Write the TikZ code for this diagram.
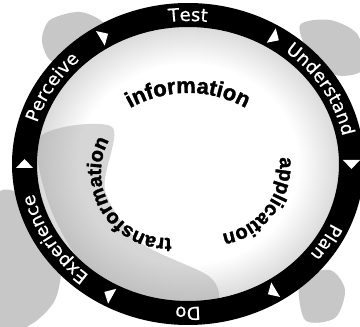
\documentclass[tikz,border=0pt]{standalone}
\usepackage{fontspec}
\newfontfamily\ringfnt{DejaVu Sans}[FakeBold=0.6]
\newfontfamily\innerfnt{Liberation Sans Bold}[FakeBold=1.6]
\usetikzlibrary{decorations.text,calc}
\pgfdeclareradialshading{innershade}{\pgfpoint{0bp}{0bp}}{color(0bp)=(white); color(18bp)=(white); color(32bp)=(black!30); color(50bp)=(black!42)}
\newcommand\ringstyle{\ringfnt\fontsize{18}{18}\selectfont\color{white}}
\newcommand\innerstyle[1]{\innerfnt\fontsize{#1}{#1}\selectfont\color{black}}
\tikzset{
  blob/.style={fill=black!22},
  shadeblob/.style={fill=black!40, opacity=0.4},
  ringtext/.style={decorate, decoration={text along path, text align=center, text={|\ringstyle|#1}}},
  innertext/.style 2 args={decorate, decoration={text along path, text align=center, text={|\innerstyle{#1}|#2}}},
  cyclehead/.style={fill=white}
}
\begin{document}
\begin{tikzpicture}[x=1pt,y=1pt]
\useasboundingbox (0,0) rectangle (360,327);
\fill[white] (0,0) rectangle (360,327);
\clip (0,0) rectangle (360,327);
% grey clouds
\fill[blob] plot[smooth cycle] coordinates {(50,307) (80,315) (105,302) (100,272) (75,257) (50,267) (42,287)};
\fill[blob] plot[smooth cycle] coordinates {(300,302) (330,307) (358,292) (362,257) (335,252) (310,272)};
\fill[blob] plot[smooth cycle] coordinates {(-5,127) (25,132) (55,112) (62,67) (55,27) (30,2) (-5,-5)};
\fill[blob] plot[smooth cycle] coordinates {(300,47) (330,57) (345,37) (335,9) (305,7)};
% inner shading
\shade[shading=innershade] (188,163) ellipse [x radius=153, y radius=139];
\fill[shadeblob] plot[smooth cycle] coordinates {(40,190) (50,120) (90,55) (160,25) (215,22) (210,50) (140,85) (105,137) (112,200)};
% ring
\coordinate (c) at (188,163);
\fill[black, even odd rule] (c) ellipse [x radius=176, y radius=161] (c) ellipse [x radius=151, y radius=137];
% arrowheads (clockwise)
\foreach \t in {0,58,121,180,241,301}{
  \fill[cyclehead, shift={($(c)+(\t:163.5 and 149)$)}, rotate=\t-90] (5,0) -- (-4,8.5) -- (-4,-8.5) -- cycle;
}
% ring labels
\path[ringtext=Test] (c) ++(150:157.5 and 143) arc[start angle=150, end angle=30, x radius=157.5, y radius=143];
\path[ringtext=Understand] (c) ++(90:157.5 and 143) arc[start angle=90, end angle=-30, x radius=157.5, y radius=143];
\path[ringtext=Plan] (c) ++(30:157.5 and 143) arc[start angle=30, end angle=-90, x radius=157.5, y radius=143];
\path[ringtext=Do] (c) ++(330:157.5 and 143) arc[start angle=330, end angle=210, x radius=157.5, y radius=143];
\path[ringtext=Experience] (c) ++(270:157.5 and 143) arc[start angle=270, end angle=150, x radius=157.5, y radius=143];
\path[ringtext=Perceive] (c) ++(210:157.5 and 143) arc[start angle=210, end angle=90, x radius=157.5, y radius=143];
% inner labels
\coordinate (ci) at (188,116);
\coordinate (ct) at (167,155);
\coordinate (ca) at (210,162);
\path[innertext={22}{information}] (ci) ++(160:118) arc[start angle=160, end angle=20, radius=118];
\path[innertext={20}{transformation}] (ct) ++(300:66) arc[start angle=300, end angle=125, radius=66];
\path[innertext={20}{application}] (ca) ++(50:70) arc[start angle=50, end angle=-124, radius=70];
\end{tikzpicture}
\end{document}
